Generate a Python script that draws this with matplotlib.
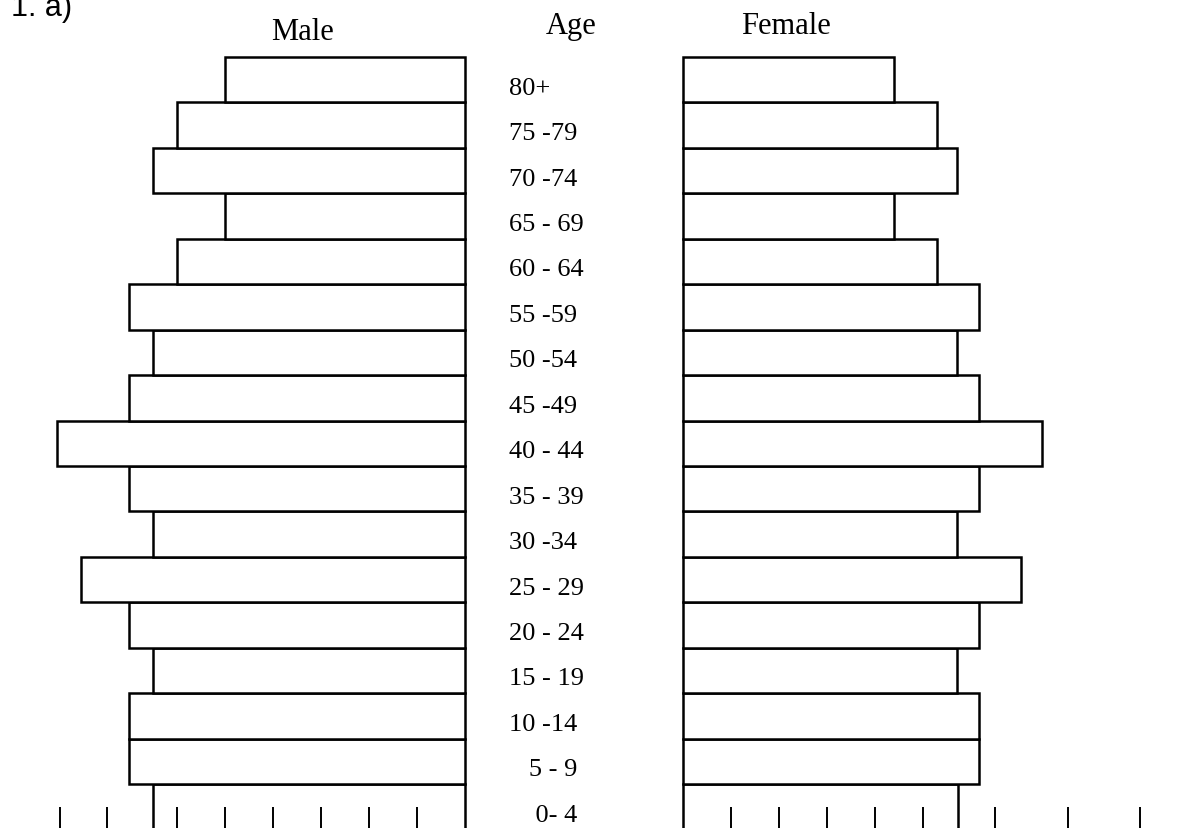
import matplotlib
matplotlib.use("Agg")
import matplotlib.pyplot as plt

# Age groups, from youngest (bottom) to oldest (top)
age_groups = ["    0- 4", "   5 - 9", "10 -14", "15 - 19", "20 - 24", "25 - 29",
              "30 -34", "35 - 39", "40 - 44", "45 -49", "50 -54", "55 -59",
              "60 - 64", "65 - 69", "70 -74", "75 -79", "80+"]
male = [6.5, 7.0, 7.0, 6.5, 7.0, 8.0, 6.5, 7.0, 8.5, 7.0, 6.5, 7.0,
        6.0, 5.0, 6.5, 6.0, 5.0]
female = [5.73, 6.17, 6.17, 5.71, 6.17, 7.04, 5.71, 6.17, 7.48, 6.17, 5.71, 6.17,
          5.29, 4.4, 5.71, 5.29, 4.4]
male_ticks = [1, 2, 3, 4, 5, 6, 7.46, 8.44]
female_ticks = [1, 2, 3, 4, 5, 6.5, 8.02, 9.52]

W, H = 1201, 829
PX_PER_UNIT = 48.0
fig = plt.figure(figsize=(W / 100, H / 100), dpi=100)

top_px = 58.0
row_px = 45.44
n = len(age_groups)
bottom_px = top_px + (n + 1) * row_px
ax_bottom = 1 - bottom_px / H
ax_height = (bottom_px - top_px) / H

male_axis_px = 465.0
female_axis_px = 683.0

axm = fig.add_axes([0, ax_bottom, male_axis_px / W, ax_height])
axf = fig.add_axes([female_axis_px / W, ax_bottom, (W - female_axis_px) / W, ax_height])

ypos = list(range(n))
lw = 1.8
axm.barh(ypos, male, height=1.0, color="white", edgecolor="black", linewidth=lw,
         clip_on=False)
axf.barh(ypos, female, height=1.0, color="white", edgecolor="black", linewidth=lw,
         clip_on=False)

axm.set_xlim(male_axis_px / PX_PER_UNIT, 0)
axf.set_xlim(0, (W - female_axis_px) / PX_PER_UNIT)
for ax in (axm, axf):
    ax.set_ylim(-1.5, n - 0.5)
    ax.axis("off")

axm.vlines(male_ticks, -1.5, 0, color="black", linewidth=1.4)
axf.vlines(female_ticks, -1.5, 0, color="black", linewidth=1.4)

serif = ["Liberation Serif", "DejaVu Serif"]
# Age labels in the gap
for i, lab in enumerate(age_groups):
    y_fig = 1 - (top_px + (n - 1 - i + 0.5) * row_px + 14) / H
    fig.text(509 / W, y_fig, lab, family=serif, fontsize=19,
             ha="left", va="baseline")

fig.text(303 / W, 1 - 40 / H, "Male", family=serif, fontsize=22,
         ha="center", va="baseline")
fig.text(571 / W, 1 - 34 / H, "Age", family=serif, fontsize=22,
         ha="center", va="baseline")
fig.text(786 / W, 1 - 34 / H, "Female", family=serif, fontsize=22,
         ha="center", va="baseline")
fig.text(11 / W, 1 - 16 / H, "1. a)", family=["Liberation Sans", "DejaVu Sans"],
         fontsize=22, ha="left", va="baseline")

fig.savefig("out.png", dpi=100, facecolor="white")
